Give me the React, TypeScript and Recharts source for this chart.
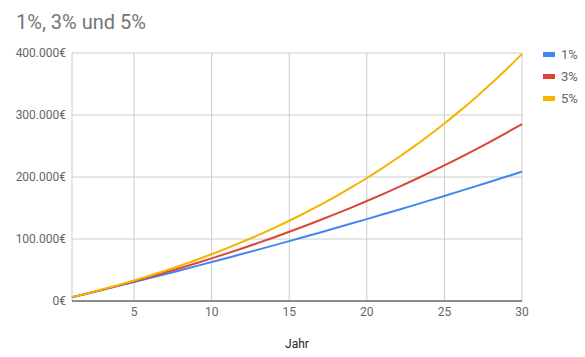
import { LineChart, Line, XAxis, YAxis, CartesianGrid } from 'recharts';

const years = [
  1, 2, 3, 4, 5, 6, 7, 8, 9, 10, 11, 12, 13, 14, 15,
  16, 17, 18, 19, 20, 21, 22, 23, 24, 25, 26, 27, 28, 29, 30,
];

const rate1 = [
  6000, 12060, 18181, 24362, 30606, 36912, 43281, 49714, 56211, 62773,
  69401, 76095, 82856, 89685, 96581, 103547, 110583, 117689, 124865, 132114,
  139435, 146830, 154298, 161841, 169459, 177154, 184925, 192775, 200702, 208709,
];

const rate3 = [
  6000, 12180, 18545, 25102, 31855, 38810, 45975, 53354, 60955, 68783,
  76847, 85152, 93707, 102518, 111593, 120941, 130570, 140487, 150701, 161222,
  172059, 183221, 194717, 206559, 218756, 231318, 244258, 257585, 271313, 285452,
];

const rate5 = [
  6000, 12300, 18915, 25861, 33154, 40811, 48852, 57295, 66159, 75467,
  85241, 95503, 106278, 117592, 129471, 141945, 155042, 168794, 183234, 198396,
  214316, 231031, 248583, 267012, 286363, 306681, 328015, 350415, 373936, 398633,
];

const xTicks = [5, 10, 15, 20, 25, 30];
const yTicks = [0, 100000, 200000, 300000, 400000];

const series = [
  { key: 'r1', name: '1%', color: '#4285F4' },
  { key: 'r3', name: '3%', color: '#DB4437' },
  { key: 'r5', name: '5%', color: '#F4B400' },
];

const data = years.map((year, i) => ({
  year,
  r1: rate1[i],
  r3: rate3[i],
  r5: rate5[i],
}));

const FONT = 'Roboto, Arial, sans-serif';

const euro = (v: number) => `${v.toLocaleString('de-DE')}€`;

export default function App() {
  return (
    <div style={{ position: 'absolute', left: 0, top: 0, width: 585, height: 357, background: '#fff' }}>
      <div
        style={{
          position: 'absolute',
          left: 16,
          top: 10,
          fontFamily: FONT,
          fontSize: 20,
          color: '#757575',
        }}
      >
        1%, 3% und 5%
      </div>
      <LineChart
        width={585}
        height={357}
        data={data}
        margin={{ top: 53, right: 63, bottom: 26, left: 0 }}
      >
        <CartesianGrid stroke="#cccccc" />
        <XAxis
          dataKey="year"
          type="number"
          domain={[1, 30]}
          ticks={xTicks}
          tickLine={false}
          axisLine={{ stroke: '#333333' }}
          tick={{ fill: '#666', fontSize: 12, fontFamily: FONT }}
          tickMargin={0}
          label={{ value: 'Jahr', position: 'insideBottom', offset: -17, fill: '#222', fontSize: 12, fontFamily: FONT }}
        />
        <YAxis
          type="number"
          domain={[0, 400000]}
          ticks={yTicks}
          width={72}
          tickLine={false}
          axisLine={false}
          tickFormatter={euro}
          tick={{ fill: '#666', fontSize: 12, fontFamily: FONT }}
          tickMargin={0}
        />
        {series.map((s) => (
          <Line
            key={s.key}
            type="monotone"
            dataKey={s.key}
            name={s.name}
            stroke={s.color}
            strokeWidth={2}
            dot={false}
            isAnimationActive={false}
          />
        ))}
      </LineChart>
      <div style={{ position: 'absolute', left: 543, top: 43, fontFamily: FONT, fontSize: 13, color: '#666' }}>
        {series.map((s) => (
          <div key={s.key} style={{ display: 'flex', alignItems: 'center', height: 22 }}>
            <span style={{ display: 'inline-block', width: 12, height: 5, background: s.color, marginRight: 6 }} />
            <span>{s.name}</span>
          </div>
        ))}
      </div>
    </div>
  );
}
